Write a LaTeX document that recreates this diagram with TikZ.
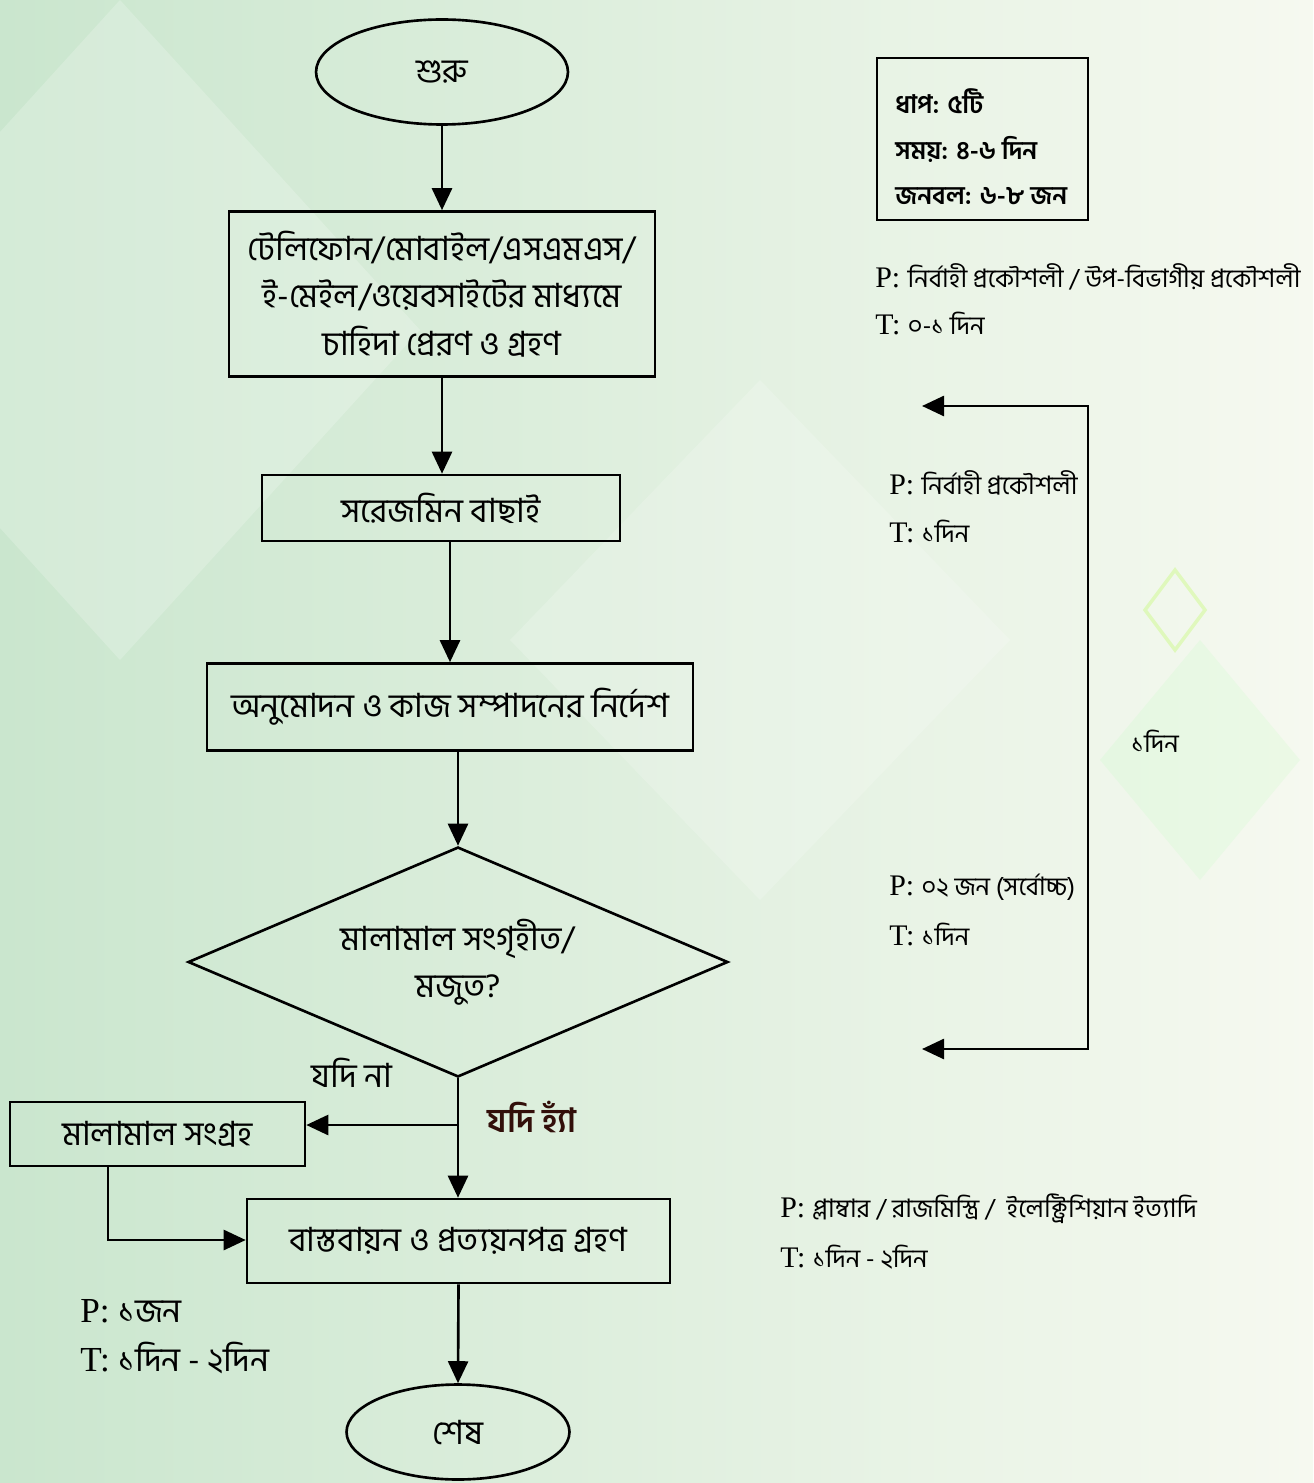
\documentclass[tikz,border=0pt]{standalone}
\usepackage{fontspec}
\setmainfont{Liberation Serif}
\newfontfamily\bn[Script=Bengali]{Hind Siliguri}
\newcommand{\bnnote}{\bn\fontsize{14.5}{18}\selectfont}
\usetikzlibrary{positioning}
\usetikzlibrary{arrows.meta}
\usetikzlibrary{shapes.geometric}
\definecolor{bgleft}{RGB}{202,230,206}
\definecolor{bgright}{RGB}{246,249,240}
\definecolor{yescol}{RGB}{50,15,10}
\tikzset{flowbox/.style={rectangle,draw=black,line width=1.5pt,fill=none,
inner sep=3pt,align=center,font=\bn\fontsize{19}{27}\selectfont}}
\tikzset{flowterm/.style={ellipse,draw=black,line width=1.5pt,
inner sep=0pt,font=\bn\fontsize{19}{27}\selectfont}}
\tikzset{flowdec/.style={diamond,draw=black,line width=1.5pt,aspect=2.35,
inner sep=0pt,align=center,font=\bn\fontsize{19}{27}\selectfont}}
\tikzset{flowinfo/.style={rectangle,draw=black,line width=1.5pt,
inner sep=0pt,minimum width=4.22cm,minimum height=3.24cm}}
\tikzset{flowinfotext/.style={anchor=west,inner sep=0pt,font=\bn\bfseries\fontsize{14.5}{17}\selectfont}}
\tikzset{flownote/.style={anchor=west,inner sep=0pt,font=\fontsize{17}{20}\selectfont}}
\tikzset{flowarrow/.style={line width=1.5pt,-{Stealth[length=4.4mm,width=4mm,inset=0pt]}}}

\begin{document}
\begin{tikzpicture}[x=0.02cm,y=-0.02cm]
    \useasboundingbox (0,0) rectangle (1313,1483);
    \fill[left color=bgleft,right color=bgright] (0,0) rectangle (1313,1483);
    % faint diamonds in the background
    \fill[white,opacity=0.2] (120,0) -- (420,330) -- (120,660) -- (-180,330) -- cycle;
    \fill[white,opacity=0.18] (760,380) -- (1010,640) -- (760,900) -- (510,640) -- cycle;
    \draw[green!40!yellow,opacity=0.2,line width=2pt] (1175,570) -- (1205,610) -- (1175,650) -- (1145,610) -- cycle;
    \fill[green!30,opacity=0.15] (1200,640) -- (1300,760) -- (1200,880) -- (1100,760) -- cycle;

    \node[flowterm,minimum width=5.04cm,minimum height=2.1cm] (start) at (442,72) {শুরু};
    \node[flowbox,minimum width=8.52cm,minimum height=3.3cm] (request) at (442,294)
        {টেলিফোন/মোবাইল/এসএমএস/\\ই-মেইল/ওয়েবসাইটের মাধ্যমে\\চাহিদা প্রেরণ ও গ্রহণ};
    \node[flowbox,minimum width=7.16cm,minimum height=1.32cm] (survey) at (441,508) {সরেজমিন বাছাই};
    \node[flowbox,minimum width=9.72cm,minimum height=1.74cm] (approve) at (450,707)
        {অনুমোদন ও কাজ সম্পাদনের নির্দেশ};
    \node[flowdec,minimum width=10.8cm,minimum height=4.6cm] (stock) at (458,962)
        {মালামাল সংগৃহীত/\\মজুত?};
    \node[flowbox,minimum width=5.9cm,minimum height=1.28cm] (collect) at (157.5,1134) {মালামাল সংগ্রহ};
    \node[flowbox,minimum width=8.46cm,minimum height=1.68cm] (implement) at (458.5,1241)
        {বাস্তবায়ন ও প্রত্যয়নপত্র গ্রহণ};
    \node[flowterm,minimum width=4.46cm,minimum height=1.9cm] (finish) at (458,1432) {শেষ};

    \draw[flowarrow] (start.south -| request.north) -- (request.north);
    \draw[flowarrow] (request.south) -- (request.south |- survey.north);
    \draw[flowarrow] (survey.south -| approve.north) -- (approve.north);
    \draw[flowarrow] (approve.south -| stock.north) -- (stock.north);
    \draw[flowarrow] (stock.south) -- (implement.north -| stock.south);
    \coordinate (split) at (458,1125);
    \draw[flowarrow] (split) -- (split -| collect.east);
    \coordinate (collectdown) at (108,1240);
    \draw[flowarrow] (collect.south -| collectdown) -- (collectdown) -- (collectdown -| implement.west);
    \draw[flowarrow] (implement.south) -- (finish.north);

    \node[font=\bn\fontsize{19}{27}\selectfont] (ifno) at (352,1073) {যদি না};
    \node[font=\bn\bfseries\fontsize{19}{27}\selectfont,text=yescol] (ifyes) at (532,1117) {যদি হ্যাঁ};

    \node[flownote,font=\fontsize{20}{24}\selectfont] (pbottom) at (80,1311) {P: {\bn\fontsize{19}{24}\selectfont ১জন}};
    \node[flownote,font=\fontsize{20}{24}\selectfont] (tbottom) at (80,1358) {T: {\bn\fontsize{19}{24}\selectfont ১দিন - ২দিন}};

    % summary box
    \node[flowinfo] (summary) at (982.5,139) {};
    \node[flowinfotext] (steps) at (895,101) {ধাপ: ৫টি};
    \node[flowinfotext] (time) at (895,149) {সময়: ৪-৬ দিন};
    \node[flowinfotext] (staff) at (895,196) {জনবল: ৬-৮ জন};

    \node[flownote] (pone) at (875,277) {P: {\bnnote নির্বাহী প্রকৌশলী / উপ-বিভাগীয় প্রকৌশলী}};
    \node[flownote] (tone) at (875,324) {T: {\bnnote ০-১ দিন}};

    % feedback line
    \coordinate (fbtop) at (922,406);
    \coordinate (fbtopr) at (1088,406);
    \coordinate (fbbotr) at (1088,1049);
    \coordinate (fbbot) at (922,1049);
    \draw[line width=1.5pt,{Stealth[length=4.4mm,width=4mm,inset=0pt]}-{Stealth[length=4.4mm,width=4mm,inset=0pt]}]
        (fbtop) -- (fbtopr) -- (fbbotr) -- (fbbot);
    \node[flownote,font=\bnnote] (fbday) at (1131,741) {১দিন};

    \node[flownote] (ptwo) at (889,483) {P: {\bnnote নির্বাহী প্রকৌশলী}};
    \node[flownote] (ttwo) at (889,531) {T: {\bnnote ১দিন}};
    \node[flownote] (pthree) at (889,887) {P: {\bnnote ০২ জন (সর্বোচ্চ)}};
    \node[flownote] (tthree) at (889,934) {T: {\bnnote ১দিন}};

    \node[flownote] (pfour) at (780,1209) {P: {\bnnote প্লাম্বার / রাজমিস্ত্রি /\ \ ইলেক্ট্রিশিয়ান ইত্যাদি}};
    \node[flownote] (tfour) at (780,1257) {T: {\bnnote ১দিন - ২দিন}};
\end{tikzpicture}
\end{document}
